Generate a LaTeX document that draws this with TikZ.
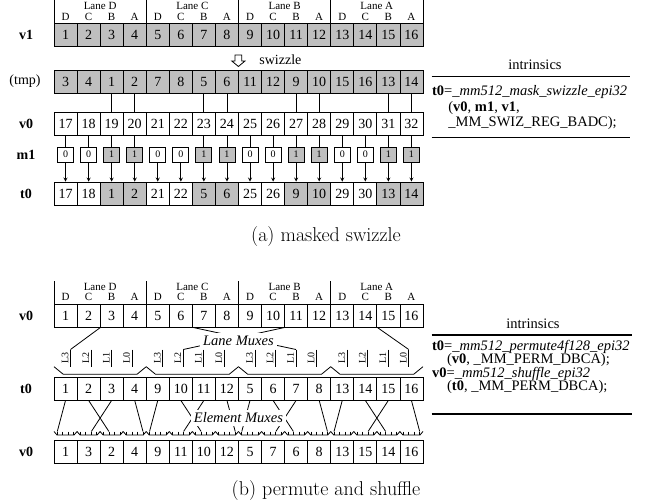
\documentclass[tikz,border=0pt]{standalone}
\usepackage{fontspec}
\newfontfamily\tms{Liberation Serif}
\usetikzlibrary{calc}

\tikzset{
  cellbox/.style={draw, minimum width=23.06pt, minimum height=23pt, inner sep=0pt, font=\tms\fontsize{14}{16}\selectfont},
  shaded/.style={fill=black!25},
  maskbox/.style={draw, minimum width=16pt, minimum height=15pt, inner sep=0pt, font=\tms\fontsize{10}{12}\selectfont},
  rowname/.style={font=\tms\fontsize{14}{16}\selectfont, inner sep=0pt},
  lanetext/.style={font=\tms\fontsize{11}{12}\selectfont, inner sep=0pt},
  muxinput/.style={font=\tms\fontsize{10}{11}\selectfont, rotate=90, anchor=south, inner sep=0.8pt},
  muxtitle/.style={font=\tms\itshape\fontsize{14.5}{16}\selectfont, fill=white, inner sep=3pt},
  codeline/.style={font=\tms\fontsize{14.5}{15}\selectfont, anchor=west, inner sep=0pt},
  subcap/.style={font=\fontsize{20}{23}\selectfont},
}
\colorlet{mask0}{white}
\colorlet{mask1}{black!25}

\begin{document}
\begin{tikzpicture}[x=1pt,y=-1pt,line width=0.8pt]
\useasboundingbox (0,0) rectangle (652,503);

\foreach \n/\ln in {0/D,1/C,2/B,3/A} {
  \node[lanetext] (lanea-\ln) at ({100.1+92.24*\n},6) {Lane \ln};
  \draw ({54+92.24*\n},0) -- ({54+92.24*\n},23);
}
\draw (423,0) -- (423,23);
\foreach \ps [count=\i] in {D,C,B,A,D,C,B,A,D,C,B,A,D,C,B,A}
  \node[lanetext] (posa-\i) at ({42.47+23.06*\i},17) {\ps};

\foreach \i in {1,...,16}
  \node[cellbox,shaded] (v1-\i) at ({42.47+23.06*\i},34.5) {\i};
\foreach \val [count=\i] in {3,4,1,2,7,8,5,6,11,12,9,10,15,16,13,14}
  \node[cellbox,shaded] (tmp-\i) at ({42.47+23.06*\i},81.5) {\val};
\foreach \i in {1,...,16} {
  \pgfmathtruncatemacro\val{\i+16}
  \node[cellbox] (va-\i) at ({42.47+23.06*\i},123.5) {\val};
}
\foreach \mk [count=\i] in {0,0,1,1,0,0,1,1,0,0,1,1,0,0,1,1}
  \node[maskbox,fill=mask\mk] (m-\i) at ({42.47+23.06*\i},154.5) {\mk};
\foreach \val/\mk [count=\i] in {17/0,18/0,1/1,2/1,21/0,22/0,5/1,6/1,25/0,26/0,9/1,10/1,29/0,30/0,13/1,14/1}
  \node[cellbox,fill=mask\mk] (ta-\i) at ({42.47+23.06*\i},193.5) {\val};

\foreach \i in {3,4,7,8,11,12,15,16}
  \draw (tmp-\i) -- (va-\i);
\foreach \i in {1,2,3,4,7,8,9,10,11,12,13,14,15,16}
  \draw (va-\i) -- (m-\i);
\foreach \i in {1,...,16}
  \draw[-stealth] (m-\i) -- (ta-\i);

\draw (235,55) -- (241.8,55) -- (241.8,61) -- (245,61) -- (238.4,66.5) -- (231.8,61) -- (235,61) -- cycle;
\node[rowname,anchor=west] (swz) at (259,59.5) {swizzle};

\node[rowname] (lab-v1) at (26,34.5) {\textbf{v1}};
\node[rowname] (lab-tmp) at (25,81.5) {(tmp)};
\node[rowname] (lab-va) at (26,123.5) {\textbf{v0}};
\node[rowname] (lab-m) at (26,154.5) {\textbf{m1}};
\node[rowname] (lab-ta) at (26,193.5) {\textbf{t0}};

\node[codeline,anchor=center] (intr-a) at (535,65) {intrinsics};
\draw[line width=1.1pt] (431.7,76.7) -- (630,76.7);
\node[codeline] (code-a1) at (431.7,92.3) {\textbf{t0}=\textit{\_mm512\_mask\_swizzle\_epi32}};
\node[codeline] (code-a2) at (448,108.5) {(\textbf{v0}, \textbf{m1}, \textbf{v1},};
\node[codeline] (code-a3) at (448,123.5) {\_MM\_SWIZ\_REG\_BADC);};
\draw[line width=1.1pt] (431.7,137.7) -- (630,137.7);

\node[subcap] (cap-a) at (326,237) {(a) masked swizzle};

\foreach \n/\ln in {0/D,1/C,2/B,3/A} {
  \node[lanetext] (laneb-\ln) at ({100.1+92.24*\n},287) {Lane \ln};
  \draw ({54+92.24*\n},281) -- ({54+92.24*\n},304);
}
\foreach \ps [count=\i] in {D,C,B,A,D,C,B,A,D,C,B,A,D,C,B,A}
  \node[lanetext] (posb-\i) at ({42.47+23.06*\i},297) {\ps};

\foreach \i in {1,...,16}
  \node[cellbox] (vb-\i) at ({42.47+23.06*\i},315.5) {\i};
\foreach \val [count=\i] in {1,2,3,4,9,10,11,12,5,6,7,8,13,14,15,16}
  \node[cellbox] (tb-\i) at ({42.47+23.06*\i},388.5) {\val};
\foreach \val [count=\i] in {1,3,2,4,9,11,10,12,5,7,6,8,13,15,14,16}
  \node[cellbox] (vc-\i) at ({42.47+23.06*\i},451.5) {\val};

\foreach \n in {0,...,3} {
  \draw ({54+92.24*\n},366.7) -- ++(9.3,7.6) -- ++(73.64,0) -- ++(9.3,-7.6);
  \foreach \k/\ln in {0/3,1/2,2/1,3/0} {
    \coordinate (st-\n-\k) at ({70.5+92.24*\n+20.5*\k},349.5);
    \draw (st-\n-\k) -- ++(0,17.2);
    \node[muxinput] (in-\n-\k) at ({69.7+92.24*\n+20.5*\k},358.1) {L\ln};
  }
}
\draw (vb-2.south east) -- (st-0-0);
\draw (vb-10.south east) -- (st-1-1);
\draw (vb-6.south east) -- (st-2-2);
\draw (vb-14.south east) -- (st-3-3);
\node[muxtitle] (lanemux) at (238.4,341) {Lane Muxes};

\foreach \j in {1,...,16} {
  \draw ({30.94+23.06*\j},431.5) -- ++(3,3.5) -- ++(17.06,0) -- ++(3,-3.5);
  \foreach \p in {0,...,3} {
    \coordinate (tk-\j-\p) at ({30.94+23.06*\j+3.3+5.5*\p},431.5);
    \draw (tk-\j-\p) -- ++(0,3.5);
  }
}
\foreach \j/\s/\p in {1/1/0,2/3/2,3/2/1,4/4/3,5/5/0,6/7/2,7/6/1,8/8/3,9/9/0,10/11/2,11/10/1,12/12/3,13/13/0,14/15/2,15/14/1,16/16/3}
  \draw (tb-\s.south) -- (tk-\j-\p);
\node[muxtitle] (elemmux) at (238.4,418) {Element Muxes};

\node[rowname] (lab-vb) at (26,315.5) {\textbf{v0}};
\node[rowname] (lab-tb) at (26,388.5) {\textbf{t0}};
\node[rowname] (lab-vc) at (26,451.5) {\textbf{v0}};

\node[codeline,anchor=center] (intr-b) at (533,323.3) {intrinsics};
\draw[line width=1.1pt] (431.7,335) -- (631.7,335);
\node[codeline] (code-b1) at (431.7,346.7) {\textbf{t0}=\textit{\_mm512\_permute4f128\_epi32}};
\node[codeline] (code-b2) at (446.7,360.3) {(\textbf{v0}, \_MM\_PERM\_DBCA);};
\node[codeline] (code-b3) at (431.7,373.6) {\textbf{v0}=\textit{\_mm512\_shuffle\_epi32}};
\node[codeline] (code-b4) at (446.7,387.3) {(\textbf{t0}, \_MM\_PERM\_DBCA);};
\draw[line width=1.1pt] (431.7,414) -- (631.7,414);

\node[subcap] (cap-b) at (326,491) {(b) permute and shuffle};
\end{tikzpicture}
\end{document}
